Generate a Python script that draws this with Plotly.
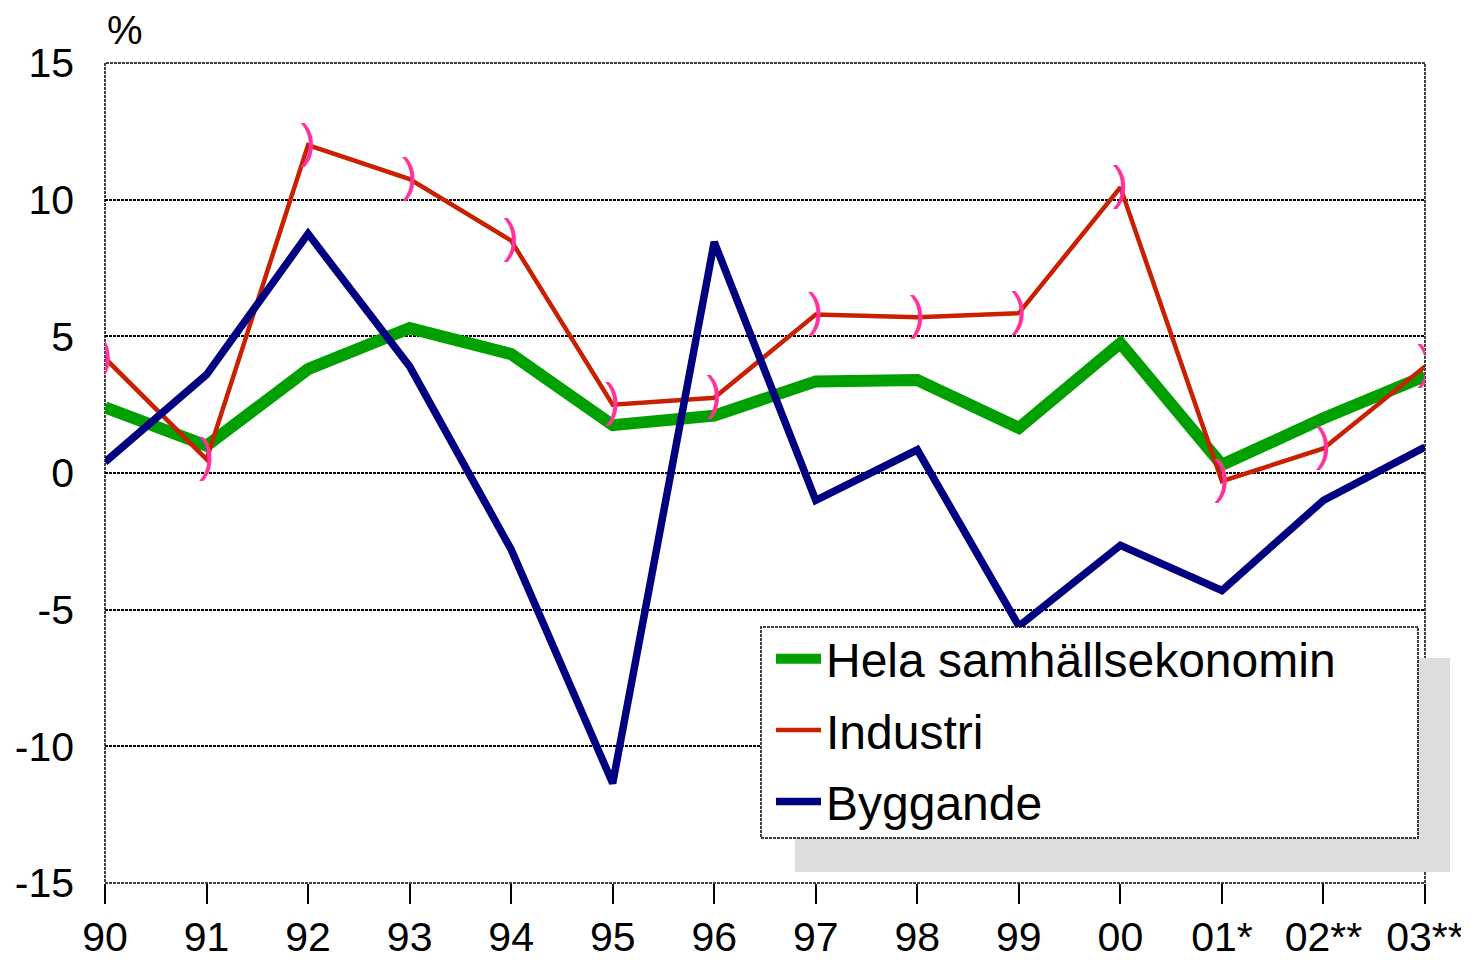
import plotly.graph_objects as go

years = ["90", "91", "92", "93", "94", "95", "96", "97", "98", "99", "00", "01*", "02**", "03**"]
hela = [2.4, 1.0, 3.8, 5.3, 4.35, 1.75, 2.1, 3.35, 3.4, 1.65, 4.75, 0.3, 2.0, 3.55]
industri = [4.2, 0.5, 12.0, 10.75, 8.5, 2.5, 2.75, 5.8, 5.7, 5.85, 10.45, -0.3, 0.9, 3.9]
byggande = [0.4, 3.6, 8.75, 3.9, -2.8, -11.35, 8.45, -1.0, 0.85, -5.6, -2.65, -4.3, -1.0, 0.95]
y_ticks = [-15, -10, -5, 0, 5, 10, 15]
y_ticklabels = ["-15", "-10", "-5", "0", "5", "10", "15"]

FONT = "Liberation Sans, Arial, sans-serif"
xpos = list(range(len(years)))

fig = go.Figure()
fig.add_trace(go.Scatter(x=xpos, y=hela, mode="lines", name="Hela samhällsekonomin",
                         line=dict(color="#00A000", width=12), legendgroup="a"))
fig.add_trace(go.Scatter(x=xpos, y=industri, mode="lines+text", name="Industri",
                         text=[")"] * len(years), textposition="middle center",
                         textfont=dict(color="#FF3399", size=46, family=FONT),
                         line=dict(color="#C82000", width=4.5), legendgroup="b"))
fig.add_trace(go.Scatter(x=xpos, y=byggande, mode="lines", name="Byggande",
                         line=dict(color="#000080", width=7.5), legendgroup="c"))

# page pixel -> paper fraction (plot area spans x 105..1425, y 63..883 on the page)
def px_x(p):
    return (p - 105) / 1320

def px_y(p):
    return (883 - p) / 820

shapes = [
    dict(type="rect", xref="paper", yref="paper", x0=0, x1=1, y0=0, y1=1,
         line=dict(color="black", width=1.5, dash="3px,1px"), layer="below"),
    dict(type="rect", xref="paper", yref="paper", x0=px_x(795), x1=px_x(1450),
         y0=px_y(872), y1=px_y(658), fillcolor="#DDDDDD", line=dict(width=0), layer="above"),
    dict(type="rect", xref="paper", yref="paper", x0=px_x(761), x1=px_x(1418),
         y0=px_y(838), y1=px_y(627), fillcolor="white",
         line=dict(color="black", width=1.5, dash="3px,1px"), layer="above"),
]

# the page body has an 8px margin, so the figure is offset by (8, 8)
fig.update_layout(
    width=1461, height=952,
    margin=dict(l=97, r=44, t=55, b=77, autoexpand=False),
    paper_bgcolor="white", plot_bgcolor="white",
    font=dict(family=FONT, size=41, color="black"),
    showlegend=True,
    legend=dict(x=px_x(771), y=px_y(621), xanchor="left", yanchor="top",
                bgcolor="rgba(0,0,0,0)", borderwidth=0,
                font=dict(size=48, family=FONT), tracegroupgap=6,
                itemwidth=45),
    shapes=shapes,
    annotations=[dict(text="%", xref="paper", yref="paper", x=0, y=1, xanchor="left",
                      yanchor="bottom", yshift=9, showarrow=False,
                      font=dict(size=40, family=FONT))],
    xaxis=dict(range=[0, 13], tickvals=xpos, ticktext=years, showgrid=False,
               zeroline=False, ticks="outside", ticklen=20, tickwidth=1.5,
               tickcolor="black", showline=False, ticklabelstandoff=-2,
               automargin=False),
    yaxis=dict(range=[-15, 15], tickvals=y_ticks, ticktext=y_ticklabels,
               showgrid=True, gridcolor="black", gridwidth=1.5, griddash="3px,1px",
               zeroline=False, showline=False, ticks="", ticklabelstandoff=30,
               automargin=False),
)

fig.write_html("out.html")
